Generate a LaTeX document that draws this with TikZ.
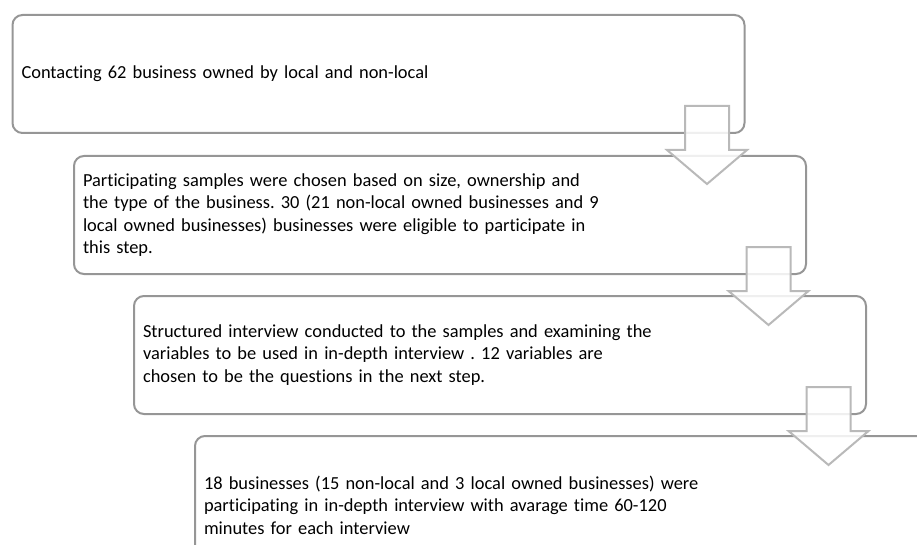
\documentclass[tikz,border=0pt]{standalone}
\usepackage{fontspec}
\setmainfont{Carlito}[Ligatures=NoCommon]
\frenchspacing
\usetikzlibrary{positioning}
\definecolor{boxgray}{RGB}{150,150,150}
\definecolor{arrowgray}{RGB}{185,185,185}
\newcommand{\steparrow}[1]{\draw[flowarrow] ([xshift=-60.5pt,yshift=28pt]#1.south east) -- ++(44,0) -- ++(0,44) -- ++(18,0) -- ++(-40,34) -- ++(-40,-34) -- ++(18,0) -- cycle;}

\begin{document}
\begin{tikzpicture}[x=1pt, y=-1pt,
    stepbox/.style={draw=boxgray, line width=2pt, rounded corners=10pt, anchor=north west,
      minimum width=732pt, minimum height=118pt, text width=714pt, inner xsep=9pt,
      align=left, font=\fontsize{18.4}{22.6}\selectfont},
    flowarrow/.style={draw=arrowgray, line width=2pt, fill=white, fill opacity=0.85}]
                    \clip (0,0) rectangle (917,545);
                    \node (box1) [stepbox] at (11.5,14) {Contacting 62 business owned by local and non-local};
                    \node (box2) [stepbox] at (73,155) {Participating samples were chosen based on size, ownership and\\
                      the type of the business. 30 (21 non-local owned businesses and 9\\
                      local owned businesses) businesses were eligible to participate in\\
                      this step.};
                    \node (box3) [stepbox] at (133,295) {Structured interview conducted to the samples and examining the\\
                      variables to be used in in-depth interview . 12 variables are\\
                      chosen to be the questions in the next step.};
                    \node (box4) [stepbox, minimum height=138pt] at (194,435) {18 businesses (15 non-local and 3 local owned businesses) were\\
                      participating in in-depth interview with avarage time 60-120\\
                      minutes for each interview};
                    \steparrow{box1}
                    \steparrow{box2}
                    \steparrow{box3}
                \end{tikzpicture}
\end{document}
